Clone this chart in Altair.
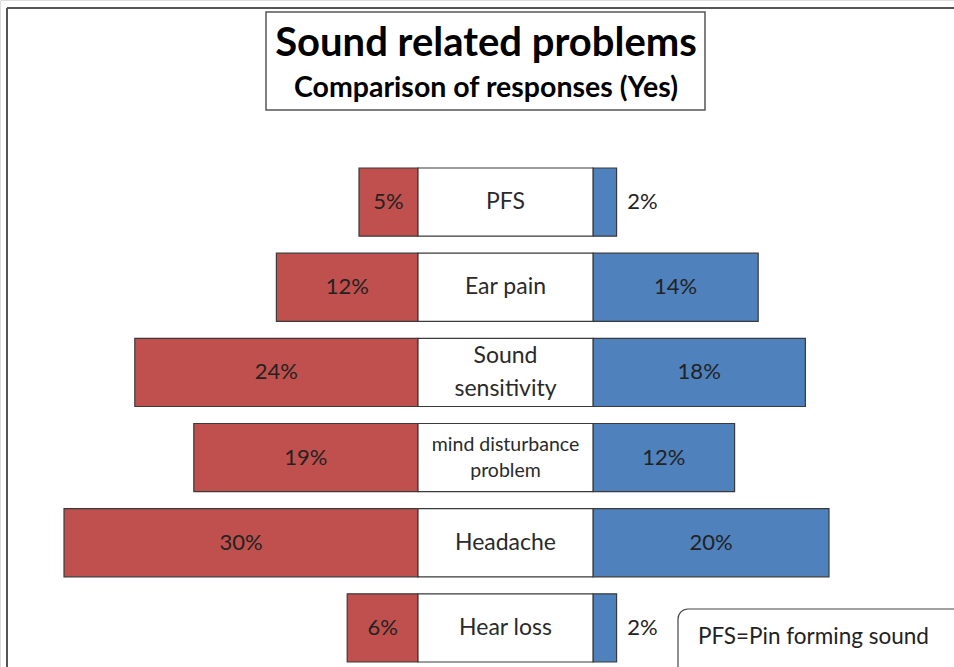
import altair as alt
import pandas as pd

categories = ["PFS", "Ear pain", "Sound sensitivity", "mind disturbance problem", "Headache", "Hear loss"]
center_labels = ["PFS", "Ear pain", "Sound\nsensitivity", "mind disturbance\nproblem", "Headache", "Hear loss"]
left_values = [5, 12, 24, 19, 30, 6]
right_values = [2, 14, 18, 12, 20, 2]

title_main = "Sound related problems"
title_sub = "Comparison of responses (Yes)"
note_text = "PFS=Pin forming sound"

RED = "#C0504D"
BLUE = "#4F81BD"
EDGE = "#3a3a3a"
FONT = "Lato"
HALF = 7.415  # half width of the centre label box, in percent units

df = pd.DataFrame({
    "cat": categories,
    "label": center_labels,
    "left": left_values,
    "right": right_values,
})

xscale = alt.Scale(domain=[-42.84, 38.01], nice=False, zero=False)
yscale = alt.Scale(domain=categories, range=[159.5, 670.5], paddingInner=0.2, paddingOuter=0.1)
ynone = alt.Y("cat:N", scale=yscale, axis=None)

base = alt.Chart(df).transform_calculate(
    lx=f"-{HALF} - datum.left",
    lx2=f"-{HALF}",
    lmid=f"-{HALF} - datum.left / 2",
    rx=f"{HALF}",
    rx2=f"{HALF} + datum.right",
    rmid=f"datum.right < 5 ? {HALF} + datum.right + 2.2 : {HALF} + datum.right / 2",
    cx=f"-{HALF}",
    cx2=f"{HALF}",
    zero="0",
    ltxt="datum.left + '%'",
    rtxt="datum.right + '%'",
)

left_bars = base.mark_bar(color=RED, stroke=EDGE, strokeWidth=1.2).encode(
    x=alt.X("lx:Q", scale=xscale, axis=None), x2="lx2:Q", y=ynone)
right_bars = base.mark_bar(color=BLUE, stroke=EDGE, strokeWidth=1.2).encode(
    x=alt.X("rx:Q", scale=xscale, axis=None), x2="rx2:Q", y=ynone)
center_box = base.mark_bar(color="white", stroke=EDGE, strokeWidth=1.2).encode(
    x=alt.X("cx:Q", scale=xscale, axis=None), x2="cx2:Q", y=ynone)

ytext = alt.Y("cat:N", scale=yscale, axis=None, bandPosition=0.5)
left_text = base.mark_text(font=FONT, fontSize=22, color="#222222", baseline="middle").encode(
    x=alt.X("lmid:Q", scale=xscale, axis=None), y=ytext, text="ltxt:N")
right_text = base.mark_text(font=FONT, fontSize=22, color="#222222", baseline="middle").encode(
    x=alt.X("rmid:Q", scale=xscale, axis=None), y=ytext, text="rtxt:N")

single = base.transform_filter("indexof(datum.label, '\\n') < 0")
center_text1 = single.mark_text(font=FONT, fontSize=23, color="#2a2a2a", baseline="middle").encode(
    x=alt.X("zero:Q", scale=xscale, axis=None), y=ytext, text="label:N")
sens = base.transform_filter("datum.cat == 'Sound sensitivity'")
center_text2 = sens.mark_text(font=FONT, fontSize=23, color="#2a2a2a", baseline="middle",
                              lineBreak="\n", lineHeight=33, dy=-16).encode(
    x=alt.X("zero:Q", scale=xscale, axis=None), y=ytext, text="label:N")
mind = base.transform_filter("datum.cat == 'mind disturbance problem'")
center_text3 = mind.mark_text(font=FONT, fontSize=19.5, color="#2a2a2a", baseline="middle",
                              lineBreak="\n", lineHeight=26, dy=-13).encode(
    x=alt.X("zero:Q", scale=xscale, axis=None), y=ytext, text="label:N")

one = alt.Data(values=[{}])
frame_top = alt.Chart(one).mark_rule(color="#555555", strokeWidth=2).encode(
    x=alt.value(7), x2=alt.value(954), y=alt.value(8))
frame_left = alt.Chart(one).mark_rule(color="#555555", strokeWidth=2).encode(
    x=alt.value(7), y=alt.value(8), y2=alt.value(667))
title_box = alt.Chart(one).mark_rect(fill="white", stroke="#555555", strokeWidth=1.5).encode(
    x=alt.value(266), x2=alt.value(705), y=alt.value(12), y2=alt.value(110))
title1 = alt.Chart(one).mark_text(font=FONT, fontSize=40, fontWeight="bold", color="black", baseline="middle").encode(
    x=alt.value(486), y=alt.value(44), text=alt.value(title_main))
title2 = alt.Chart(one).mark_text(font=FONT, fontSize=28.5, fontWeight="bold", color="black", baseline="middle").encode(
    x=alt.value(486), y=alt.value(88), text=alt.value(title_sub))
note_box = alt.Chart(one).mark_rect(fill="white", stroke="#444444", strokeWidth=1.2, cornerRadius=10).encode(
    x=alt.value(678), x2=alt.value(975), y=alt.value(609), y2=alt.value(690))
note = alt.Chart(one).mark_text(font=FONT, fontSize=22.5, color="#222222", baseline="middle", align="left").encode(
    x=alt.value(698), y=alt.value(637), text=alt.value(note_text))

chart = alt.layer(
    frame_top, frame_left, title_box, title1, title2,
    left_bars, right_bars, center_box, left_text, right_text,
    center_text1, center_text2, center_text3,
    note_box, note,
).properties(
    width=954, height=667, padding=0, autosize=alt.AutoSizeParams(type="none"),
).configure_view(stroke=None).configure(background="white")

chart.save("out.html", embed_options={"renderer": "svg", "actions": False})
